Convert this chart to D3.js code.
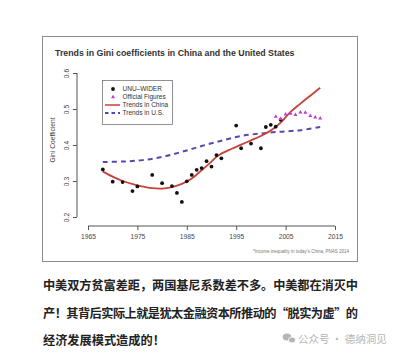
<!DOCTYPE html>
<html lang="zh">
<head>
<meta charset="utf-8">
<title>Gini China vs US</title>
<script src="https://cdn.jsdelivr.net/npm/d3@7"></script>
<style>
  body { margin: 0; background: #fff; }
  svg { display: block; }
</style>
</head>
<body>
<div id="chart"></div>
<script>
// UNU-WIDER estimates (black dots)
let widerYears = [1968, 1970, 1972, 1974, 1975, 1978, 1980, 1982, 1983, 1984, 1985, 1986, 1987, 1988, 1989, 1990, 1991, 1992, 1995, 1996, 1998, 2000, 2001, 2002, 2003, 2004]
let widerGini  = [0.332, 0.298, 0.297, 0.272, 0.285, 0.317, 0.294, 0.286, 0.267, 0.242, 0.299, 0.317, 0.331, 0.336, 0.355, 0.340, 0.372, 0.363, 0.454, 0.391, 0.404, 0.391, 0.450, 0.456, 0.451, 0.470]

// official figures (magenta triangles)
let officialYears = [2003, 2004, 2005, 2006, 2007, 2008, 2009, 2010, 2011, 2012]
let officialGini  = [0.479, 0.473, 0.485, 0.487, 0.484, 0.491, 0.490, 0.481, 0.477, 0.474]

// trend lines
let chinaYears = [1968, 1970, 1972, 1975, 1978, 1980, 1982, 1984, 1986, 1988, 1990, 1991, 1992, 1994, 1996, 1998, 2000, 2002, 2004, 2006, 2008, 2010, 2012]
let chinaTrend = [0.326, 0.312, 0.300, 0.288, 0.280, 0.279, 0.283, 0.292, 0.307, 0.330, 0.354, 0.367, 0.376, 0.389, 0.401, 0.413, 0.425, 0.440, 0.462, 0.492, 0.515, 0.537, 0.559]
let usYears = [1968, 1972, 1976, 1980, 1984, 1988, 1992, 1996, 2000, 2004, 2008, 2012]
let usTrend = [0.353, 0.354, 0.358, 0.367, 0.381, 0.397, 0.412, 0.425, 0.432, 0.437, 0.441, 0.450]

let xTicks = [1965, 1975, 1985, 1995, 2005, 2015]
let yTicks = [0.2, 0.3, 0.4, 0.5, 0.6]

let legendLabels = ["UNU\u2013WIDER", "Official Figures", "Trends in China", "Trends in U.S."]

let textLines = [
  "中美双方贫富差距，两国基尼系数差不多。中美都在消灭中",
  "产！其背后实际上就是犹太金融资本所推动的“脱实为虚”的",
  "经济发展模式造成的！"
]

let w = 400
let h = 354
let font = "Liberation Sans, Arial, sans-serif"

let svg = d3.select("#chart").append("svg")
  .attr("width", w)
  .attr("height", h)

svg.append("rect").attr("width", w).attr("height", h).attr("fill", "#fff")

// screenshot frame
svg.append("rect")
  .attr("x", 42.5).attr("y", 36.5)
  .attr("width", 315).attr("height", 225)
  .attr("fill", "#fff")
  .attr("stroke", "#8a8a8a")
  .attr("stroke-width", 1)

svg.append("text")
  .attr("x", 55).attr("y", 56)
  .attr("font-family", font)
  .attr("font-size", 8.8)
  .attr("font-weight", "bold")
  .attr("fill", "#333")
  .text("Trends in Gini coefficients in China and the United States")

let xScale = d3.scaleLinear().domain([1965, 2015]).range([88, 335])
let yScale = d3.scaleLinear().domain([0.2, 0.6]).range([217, 73])

let xAxis = d3.axisBottom(xScale).tickValues(xTicks).tickFormat(d3.format("d")).tickSizeOuter(0).tickSize(4)
let yAxis = d3.axisLeft(yScale).tickValues(yTicks).tickFormat(d3.format(".1f")).tickSizeOuter(0).tickSize(4)

let gx = svg.append("g")
  .attr("transform", "translate(0,226)")
  .call(xAxis)
gx.select(".domain").remove()
gx.append("line")
  .attr("x1", xScale(1965)).attr("x2", xScale(2015))
  .attr("stroke", "#555")
gx.selectAll(".tick line").attr("stroke", "#555")
gx.selectAll(".tick text")
  .attr("font-family", font).attr("font-size", 6.7).attr("fill", "#444")
  .attr("y", 8)

let gy = svg.append("g")
  .attr("transform", "translate(77,0)")
  .call(yAxis)
gy.select(".domain").remove()
gy.append("line")
  .attr("y1", yScale(0.2)).attr("y2", yScale(0.6))
  .attr("stroke", "#555")
gy.selectAll(".tick line").attr("stroke", "#555")
gy.selectAll(".tick text")
  .attr("font-family", font).attr("font-size", 6.7).attr("fill", "#444")
  .attr("x", 0).attr("y", 0).attr("dy", 0)
  .attr("text-anchor", "middle")
  .attr("transform", "translate(-8,0) rotate(-90)")

svg.append("text")
  .attr("transform", "translate(55,140) rotate(-90)")
  .attr("text-anchor", "middle")
  .attr("font-family", font).attr("font-size", 6.7).attr("fill", "#444")
  .text("Gini Coefficient")

let line = d3.line()
  .x(function(d) { return xScale(d[0]) })
  .y(function(d) { return yScale(d[1]) })
  .curve(d3.curveCatmullRom)

// US trend (dashed)
svg.append("path")
  .datum(d3.zip(usYears, usTrend))
  .attr("d", line)
  .attr("fill", "none")
  .attr("stroke", "#5548b0")
  .attr("stroke-width", 2)
  .attr("stroke-dasharray", "5,4")

// China trend
svg.append("path")
  .datum(d3.zip(chinaYears, chinaTrend))
  .attr("d", line)
  .attr("fill", "none")
  .attr("stroke", "#c8413b")
  .attr("stroke-width", 1.8)

// WIDER dots
svg.append("g").selectAll("circle")
  .data(d3.zip(widerYears, widerGini))
  .join("circle")
  .attr("cx", function(d) { return xScale(d[0]) })
  .attr("cy", function(d) { return yScale(d[1]) })
  .attr("r", 1.9)
  .attr("fill", "#111")

// official triangles
let tri = d3.symbol().type(d3.symbolTriangle).size(7)
svg.append("g").selectAll("path")
  .data(d3.zip(officialYears, officialGini))
  .join("path")
  .attr("d", tri)
  .attr("transform", function(d) { return "translate(" + xScale(d[0]) + "," + yScale(d[1]) + ")" })
  .attr("fill", "#c03cd0")

// legend
let lg = svg.append("g")
lg.append("rect")
  .attr("x", 102.5).attr("y", 80.5)
  .attr("width", 70).attr("height", 44)
  .attr("fill", "#fff").attr("stroke", "#777").attr("stroke-width", 0.8)
let rowY = [89, 97, 105, 113]
lg.selectAll("text.lab")
  .data(legendLabels)
  .join("text")
  .attr("class", "lab")
  .attr("x", 122.5)
  .attr("y", function(d, i) { return rowY[i] + 2.3 })
  .attr("font-family", font).attr("font-size", 6.5).attr("fill", "#333")
  .text(function(d) { return d })
lg.append("circle").attr("cx", 113).attr("cy", rowY[0]).attr("r", 1.9).attr("fill", "#111")
lg.append("path").attr("d", tri).attr("transform", "translate(113," + rowY[1] + ")").attr("fill", "#c03cd0")
lg.append("line").attr("x1", 105).attr("x2", 120).attr("y1", rowY[2]).attr("y2", rowY[2])
  .attr("stroke", "#c8413b").attr("stroke-width", 1.5)
lg.append("line").attr("x1", 105).attr("x2", 120).attr("y1", rowY[3]).attr("y2", rowY[3])
  .attr("stroke", "#5548b0").attr("stroke-width", 1.8).attr("stroke-dasharray", "3.5,3")

// footnote
svg.append("text")
  .attr("x", 349).attr("y", 253)
  .attr("text-anchor", "end")
  .attr("font-family", font).attr("font-size", 4.5).attr("fill", "#777")
  .text("*Income inequality in today's China, PNAS 2014")

// article text
let cjk = "Noto Sans CJK SC, sans-serif"
textLines.forEach(function(t, i) {
  let tx = svg.append("text")
    .attr("x", 43).attr("y", 290 + i * 27.5)
    .attr("font-family", cjk).attr("font-size", 12.2)
    .attr("font-weight", "bold").attr("fill", "#222")
    .text(t)
  if (i < 2) tx.attr("textLength", 315).attr("lengthAdjust", "spacing")
})

// watermark
let wm = svg.append("g").attr("fill", "#b5b5b5")
wm.append("ellipse").attr("cx", 287).attr("cy", 337).attr("rx", 4.3).attr("ry", 3.6)
wm.append("ellipse").attr("cx", 292).attr("cy", 340).attr("rx", 3.6).attr("ry", 3).attr("stroke", "#fff").attr("stroke-width", 0.8)
wm.append("text")
  .attr("x", 298).attr("y", 343)
  .attr("font-family", cjk).attr("font-size", 10.5)
  .text("公众号 · 德纳洞见")
</script>
</body>
</html>
